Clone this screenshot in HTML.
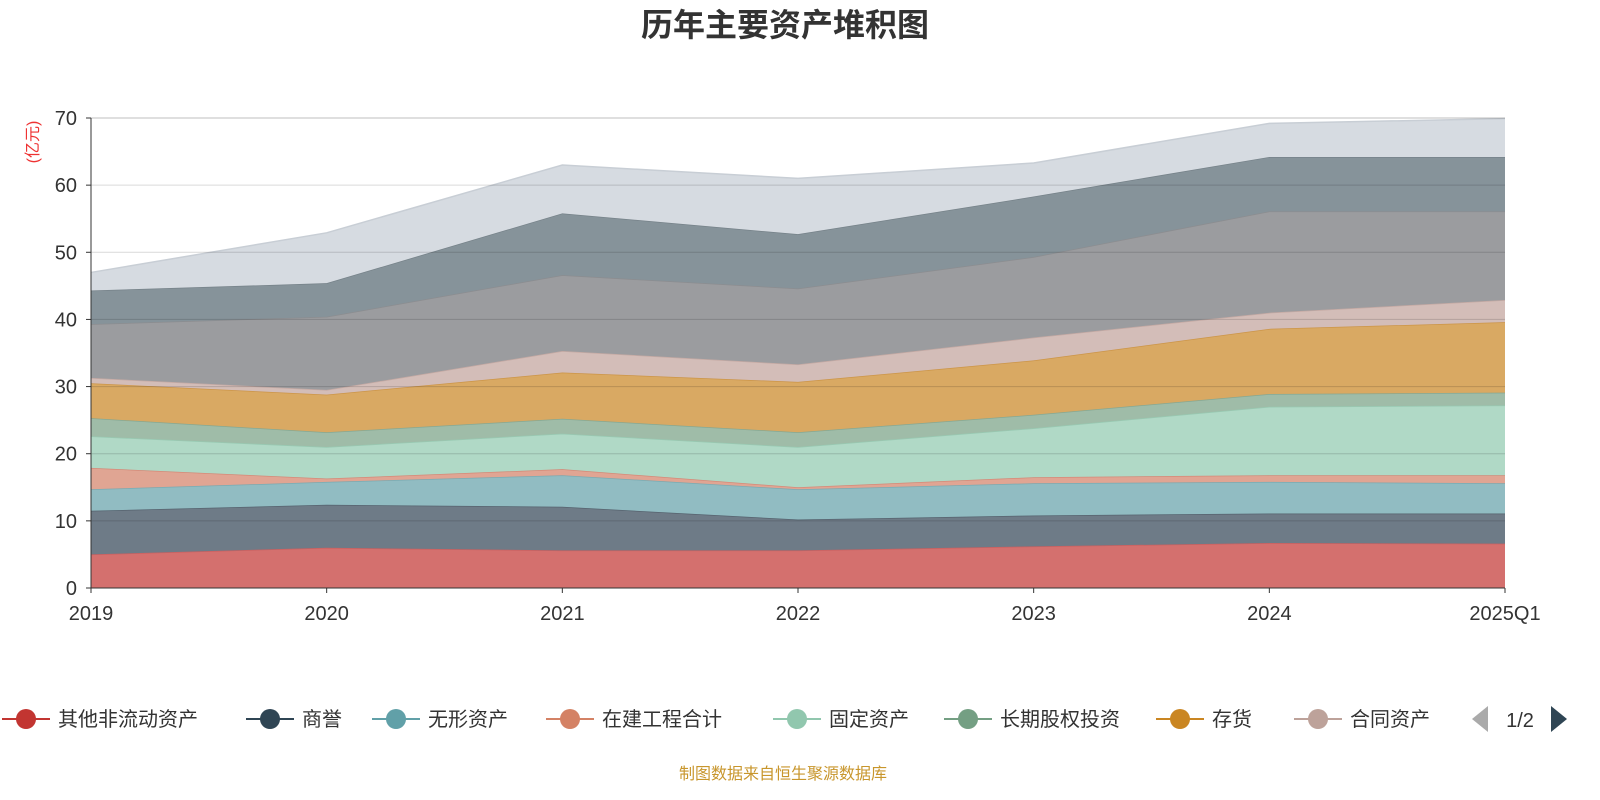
<!DOCTYPE html>
<html><head><meta charset="utf-8"><style>
body{margin:0;background:#fff;font-family:"Liberation Sans","Noto Sans CJK SC",sans-serif}
#c{position:relative;width:1600px;height:800px;overflow:hidden}
</style></head><body>
<div id="c">
<svg id="s" width="1600" height="800" xmlns="http://www.w3.org/2000/svg"></svg>
</div>
<script>
const categories=["2019","2020","2021","2022","2023","2024","2025Q1"];
const yTicks=[0,10,20,30,40,50,60,70];
const seriesNames=["其他非流动资产","商誉","无形资产","在建工程合计","固定资产","长期股权投资","存货","合同资产","其他1","其他2","其他3"];
const s1=[5.0,6.0,5.6,5.6,6.2,6.7,6.6];
const s2=[6.5,6.4,6.5,4.6,4.6,4.4,4.5];
const s3=[3.2,3.4,4.7,4.5,4.8,4.7,4.5];
const s4=[3.2,0.5,0.9,0.3,0.9,1.0,1.2];
const s5=[4.7,4.7,5.3,6.0,7.3,10.2,10.4];
const s6=[2.7,2.2,2.2,2.2,2.0,1.9,1.9];
const s7=[5.2,5.6,6.9,7.5,8.1,9.7,10.5];
const s8=[0.8,0.7,3.2,2.6,3.4,2.4,3.3];
const s9=[8.0,10.9,11.3,11.3,12.0,15.1,13.2];
const s10=[5.0,5.0,9.2,8.1,9.0,8.1,8.1];
const s11=[2.7,7.5,7.2,8.3,5.0,5.0,5.7];
const series=[s1,s2,s3,s4,s5,s6,s7,s8,s9,s10,s11];
const fills=["#d4706e","#6e7b87","#91bcc2","#e0a593","#b0d9c6","#9fbca8","#d9a963","#d3bdb8","#9b9c9f","#86939a","#d6dbe1"];
const strokes=["#c86060","#56636f","#7aaab1","#d48a78","#98c9b2","#86a892","#cc9548","#c4a9a3","#8c8d90","#768289","#c8ced5"];
const legendColors=["#c23531","#2f4554","#61a0a8","#d48265","#91c7ae","#749f83","#ca8622","#bda29a"];
const NS="http://www.w3.org/2000/svg",svg=document.getElementById('s');
const X0=91,X1=1505,Y0=588,Y1=118,YMAX=70;
const xS=i=>X0+i*(X1-X0)/(categories.length-1);
const yS=v=>Y0-v*(Y0-Y1)/YMAX;
function mk(t,a,p){const e=document.createElementNS(NS,t);for(const k in a)e.setAttribute(k,a[k]);(p||svg).appendChild(e);return e;}
// title
let t=mk('text',{x:785,y:36,'text-anchor':'middle','font-size':32,'font-weight':'bold',fill:'#333'});t.textContent='历年主要资产堆积图';

// areas
let cum=categories.map(()=>0);
series.forEach((s,k)=>{
  const lo=cum.slice();const hi=cum.map((c,i)=>c+s[i]);cum=hi;
  let d='M'+hi.map((v,i)=>xS(i)+','+yS(v)).join('L');
  d+='L'+lo.map((v,i)=>xS(i)+','+yS(v)).reverse().join('L')+'Z';
  const p=mk('path',{d:d,fill:fills[k]});
  
  const l=mk('polyline',{points:hi.map((v,i)=>xS(i)+','+yS(v)).join(' '),fill:'none',stroke:strokes[k],'stroke-width':1.5});
  
});
// grid + y ticks
yTicks.forEach(v=>{
  if(v>0){const g=mk('line',{x1:X0,x2:X1,y1:yS(v),y2:yS(v),stroke:'#000','stroke-opacity':v==70?0.25:0.15});
  }
  const tk=mk('line',{x1:X0-5,x2:X0,y1:yS(v),y2:yS(v),stroke:'#333'});
  
  const tx=mk('text',{x:X0-14,y:yS(v)+7,'text-anchor':'end','font-size':20,fill:'#333'});tx.textContent=v;
  
});
let ax=mk('line',{x1:X0,x2:X0,y1:Y1,y2:Y0,stroke:'#333'});
ax=mk('line',{x1:X0,x2:X1,y1:Y0,y2:Y0,stroke:'#333'});
categories.forEach((c,i)=>{
  const tk=mk('line',{x1:xS(i),x2:xS(i),y1:Y0,y2:Y0+5,stroke:'#333'});
  const tx=mk('text',{x:xS(i),y:620,'text-anchor':'middle','font-size':20,fill:'#333'});tx.textContent=c;
  
});
let yt=mk('text',{x:0,y:0,transform:'translate(38,142) rotate(-90)','text-anchor':'middle','font-size':16,fill:'#e33'});yt.textContent='(亿元)';

// legend
const legX=[26,270,396,570,797,968,1180,1318];
legendColors.forEach((c,i)=>{
  const g=mk('g',{});
  mk('line',{x1:legX[i]-24,x2:legX[i]+24,y1:719,y2:719,stroke:c,'stroke-width':2},g);
  mk('circle',{cx:legX[i],cy:719,r:10,fill:c},g);
  const tx=mk('text',{x:legX[i]+32,y:726,'font-size':20,fill:'#333'},g);tx.textContent=seriesNames[i];
});
let pg=mk('polygon',{points:'1488,706 1488,732 1472,719',fill:'#aaa'});
let pt=mk('text',{x:1520,y:727,'text-anchor':'middle','font-size':20,fill:'#333'});pt.textContent='1/2';
pg=mk('polygon',{points:'1551,706 1551,732 1567,719',fill:'#2f4554'});
let src=mk('text',{x:783,y:779,'text-anchor':'middle','font-size':16,fill:'#c8962c'});src.textContent='制图数据来自恒生聚源数据库';

</script>
</body></html>
